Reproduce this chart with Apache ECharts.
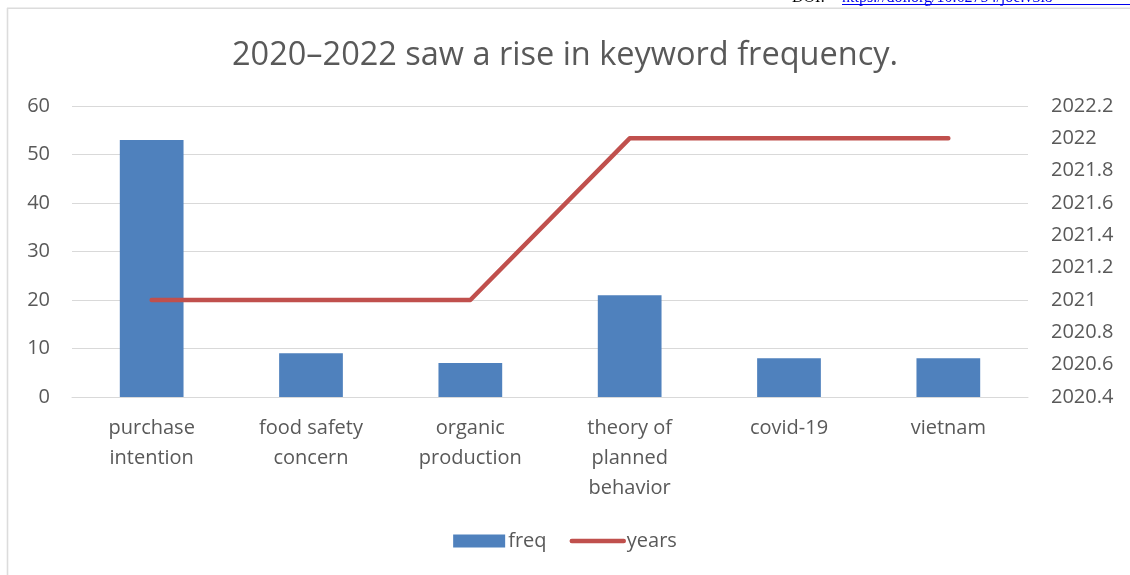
<!DOCTYPE html>
<html>
<head>
<meta charset="utf-8">
<script src="https://cdn.jsdelivr.net/npm/echarts@6/dist/echarts.min.js"></script>
<style>
  html, body { margin: 0; padding: 0; background: #fff; }
  #chart { width: 1130px; height: 575px; }
</style>
</head>
<body>
<div id="chart"></div>
<script>
// Keyword categories and their counts / publication years
const categories = [
  'purchase\nintention',
  'food safety\nconcern',
  'organic\nproduction',
  'theory of\nplanned\nbehavior',
  'covid-19',
  'vietnam'
];
const freqValues = [53, 9, 7, 21, 8, 8];
const yearValues = [2021, 2021, 2021, 2022, 2022, 2022];

const titleText = '2020\u20132022 saw a rise in keyword frequency.';
const doiText = 'DOI: ';
const doiLink = 'https://doi.org/10.62754/joe.v3i8';

const FONT = '"Open Sans", Lato, sans-serif';
const TEXT = '#595959';
const LABEL_SIZE = 20;

const chart = echarts.init(document.getElementById('chart'), null, { renderer: 'canvas' });

chart.setOption({
  backgroundColor: '#ffffff',
  animation: false,
  title: {
    text: titleText,
    left: 'center',
    top: 34,
    textStyle: { fontFamily: FONT, fontSize: 32.5, fontWeight: 'normal', color: TEXT }
  },
  legend: {
    bottom: 19,
    left: 'center',
    itemWidth: 52,
    itemHeight: 13,
    itemGap: 23,
    textStyle: { fontFamily: FONT, fontSize: LABEL_SIZE, color: TEXT, padding: [0, 0, 0, -2] },
    data: [
      { name: 'freq', icon: 'rect' },
      {
        name: 'years',
        itemStyle: { opacity: 0 },
        lineStyle: { color: '#c0504d', width: 4.5, cap: 'round' }
      }
    ]
  },
  grid: { left: 72, right: 102, top: 106, bottom: 178, containLabel: false },
  xAxis: {
    type: 'category',
    data: categories,
    axisTick: { show: false },
    axisLine: { show: true, lineStyle: { color: '#d9d9d9', width: 1 } },
    axisLabel: {
      interval: 0,
      margin: 16,
      fontFamily: FONT,
      fontSize: LABEL_SIZE,
      lineHeight: 30,
      color: TEXT,
      verticalAlign: 'top'
    }
  },
  yAxis: [
    {
      type: 'value',
      min: 0,
      max: 60,
      interval: 10,
      axisLine: { show: false },
      axisTick: { show: false },
      splitLine: { lineStyle: { color: '#d9d9d9', width: 1 } },
      axisLabel: { margin: 22, fontFamily: FONT, fontSize: LABEL_SIZE, color: TEXT }
    },
    {
      type: 'value',
      min: 2020.4,
      max: 2022.2,
      interval: 0.2,
      position: 'right',
      axisLine: { show: false },
      axisTick: { show: false },
      splitLine: { show: false },
      axisLabel: {
        margin: 23,
        fontFamily: FONT,
        fontSize: LABEL_SIZE,
        color: TEXT,
        formatter: v => String(Math.round(v * 10) / 10)
      }
    }
  ],
  series: [
    {
      name: 'freq',
      type: 'bar',
      data: freqValues,
      barWidth: '40%',
      itemStyle: { color: '#4f81bd' }
    },
    {
      name: 'years',
      type: 'line',
      yAxisIndex: 1,
      data: yearValues,
      symbol: 'none',
      lineStyle: { color: '#c0504d', width: 4.5, cap: 'round', join: 'round' },
      itemStyle: { color: '#c0504d' }
    }
  ],
  graphic: [
    {
      type: 'line',
      shape: { x1: 7.5, y1: 8, x2: 7.5, y2: 575 },
      style: { stroke: '#dcdcdc', lineWidth: 1.6 }
    },
    {
      type: 'line',
      shape: { x1: 7, y1: 8.3, x2: 1130, y2: 8.3 },
      style: { stroke: '#dcdcdc', lineWidth: 1.6 }
    },
    {
      type: 'text',
      left: 792,
      top: -10,
      style: { text: doiText, font: '16px "Liberation Serif", serif', fill: '#000' }
    },
    {
      type: 'text',
      left: 842,
      top: -10,
      style: { text: doiLink, font: '16px "Liberation Serif", serif', fill: '#0000ee' }
    },
    {
      type: 'line',
      shape: { x1: 842, y1: 4.5, x2: 1130, y2: 4.5 },
      style: { stroke: '#0000ee', lineWidth: 1 }
    }
  ]
});
</script>
</body>
</html>
